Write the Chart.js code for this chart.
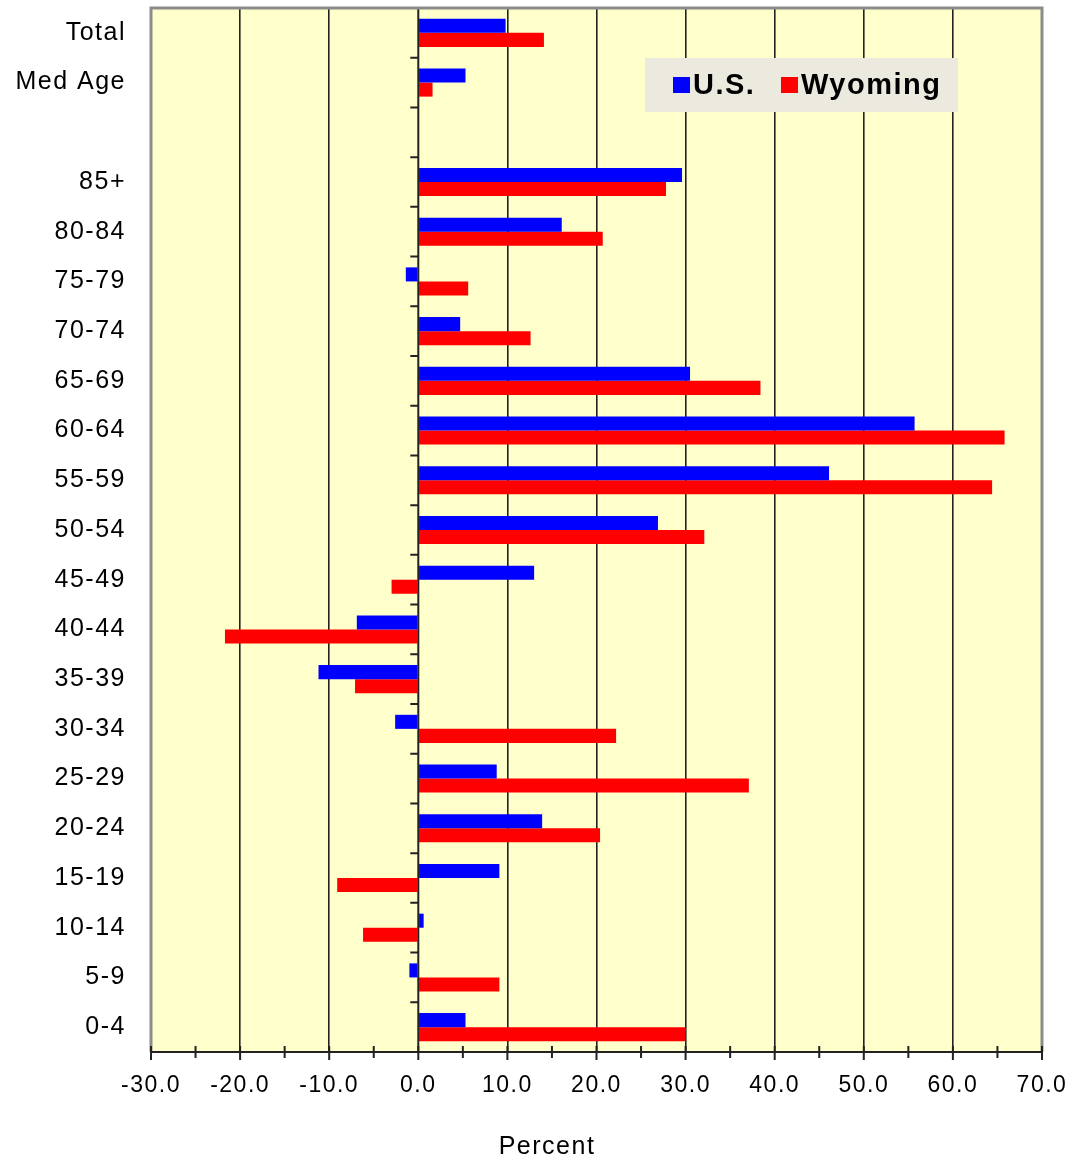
<!DOCTYPE html>
<html>
<head>
<meta charset="utf-8">
<script src="https://cdn.jsdelivr.net/npm/chart.js@4/dist/chart.umd.min.js"></script>
<style>
  body { margin: 0; background: #fff; }
  #wrap { width: 1075px; height: 1163px; position: relative; }
</style>
</head>
<body>
<div id="wrap"><canvas id="popChart"></canvas></div>
<script>
const categories = ['Total', 'Med Age', '', '85+', '80-84', '75-79', '70-74', '65-69', '60-64', '55-59',
  '50-54', '45-49', '40-44', '35-39', '30-34', '25-29', '20-24', '15-19', '10-14', '5-9', '0-4'];
const usValues = [9.8, 5.3, null, 29.6, 16.1, -1.4, 4.7, 30.5, 55.7, 46.1,
  26.9, 13.0, -6.9, -11.2, -2.6, 8.8, 13.9, 9.1, 0.6, -1.0, 5.3];
const wyValues = [14.1, 1.6, null, 27.8, 20.7, 5.6, 12.6, 38.4, 65.8, 64.4,
  32.1, -3.0, -21.7, -7.1, 22.2, 37.1, 20.4, -9.1, -6.2, 9.1, 30.0];
const xMin = -30, xMax = 70, xStep = 10;

const FONT = "'Liberation Sans', Arial, sans-serif";
const SPACING = '1.5px';

// background, zero line, frame, axis ticks, legend, axis title
const decorations = {
  id: 'decorations',
  beforeUpdate(chart) { chart.ctx.letterSpacing = SPACING; },
  beforeDraw(chart) {
    const { ctx, chartArea: a } = chart;
    ctx.letterSpacing = SPACING;
    ctx.save();
    ctx.fillStyle = '#FFFFCC';
    ctx.fillRect(a.left, a.top, a.right - a.left, a.bottom - a.top);
    ctx.restore();
  },
  afterDatasetsDraw(chart) {
    const { ctx, chartArea: a, scales: { x, y } } = chart;
    ctx.save();
    // zero axis with category ticks
    const x0 = x.getPixelForValue(0);
    ctx.strokeStyle = '#222';
    ctx.lineWidth = 2;
    ctx.beginPath();
    ctx.moveTo(x0, a.top);
    ctx.lineTo(x0, a.bottom);
    const n = categories.length;
    const band = (a.bottom - a.top) / n;
    for (let i = 0; i <= n; i++) {
      const yy = a.top + i * band;
      ctx.moveTo(x0 - 8, yy);
      ctx.lineTo(x0, yy);
    }
    ctx.stroke();

    // frame
    ctx.strokeStyle = '#8c8c8c';
    ctx.lineWidth = 3;
    ctx.beginPath();
    ctx.moveTo(a.left, a.bottom);
    ctx.lineTo(a.left, a.top);
    ctx.lineTo(a.right, a.top);
    ctx.lineTo(a.right, a.bottom);
    ctx.stroke();

    // bottom axis + ticks every 5
    ctx.strokeStyle = '#222';
    ctx.lineWidth = 2;
    ctx.beginPath();
    ctx.moveTo(a.left, a.bottom);
    ctx.lineTo(a.right, a.bottom);
    for (let v = xMin; v <= xMax; v += 5) {
      const px = x.getPixelForValue(v);
      ctx.moveTo(px, a.bottom - 6);
      ctx.lineTo(px, a.bottom + (v % 10 === 0 ? 8 : 6));
    }
    ctx.stroke();

    // legend
    const lx = 645, ly = 58;
    ctx.fillStyle = '#ECE9DF';
    ctx.fillRect(lx, ly, 313, 54);
    ctx.font = 'bold 29px ' + FONT;
    ctx.textBaseline = 'alphabetic';
    ctx.textAlign = 'left';
    const items = [
      { label: chart.data.datasets[0].label, color: chart.data.datasets[0].backgroundColor, sx: 673 },
      { label: chart.data.datasets[1].label, color: chart.data.datasets[1].backgroundColor, sx: 781 }
    ];
    items.forEach(it => {
      ctx.fillStyle = it.color;
      ctx.fillRect(it.sx, 77, 17, 16);
      ctx.fillStyle = '#000';
      ctx.fillText(it.label, it.sx + 20, 94);
    });

    // axis title
    ctx.font = '25px ' + FONT;
    ctx.textAlign = 'center';
    ctx.textBaseline = 'middle';
    ctx.fillStyle = '#000';
    ctx.fillText('Percent', 547, 1147);
    ctx.restore();
  }
};

const ctx = document.getElementById('popChart').getContext('2d');
const popChart = new Chart(ctx, {
  type: 'bar',
  data: {
    labels: categories,
    datasets: [
      { label: 'U.S.', data: usValues, backgroundColor: '#0000FF', categoryPercentage: 0.565, barPercentage: 1.0 },
      { label: 'Wyoming', data: wyValues, backgroundColor: '#FF0000', categoryPercentage: 0.565, barPercentage: 1.0 }
    ]
  },
  options: {
    indexAxis: 'y',
    responsive: true,
    maintainAspectRatio: false,
    animation: false,
    layout: { padding: { top: 8, right: 33, left: 0, bottom: 0 } },
    plugins: {
      legend: { display: false },
      tooltip: { enabled: false }
    },
    scales: {
      x: {
        min: xMin,
        max: xMax,
        afterFit: s => { s.height = 111; s.paddingLeft = 0; s.paddingRight = 0; },
        ticks: {
          stepSize: xStep,
          padding: 20,
          color: '#000',
          font: { family: FONT, size: 23 },
          callback: v => Number(v).toFixed(1)
        },
        grid: {
          drawTicks: false,
          lineWidth: 1.6,
          color: c => (c.tick && (c.tick.value === xMin || c.tick.value === xMax || c.tick.value === 0)) ? 'rgba(0,0,0,0)' : '#222'
        },
        border: { display: false }
      },
      y: {
        afterFit: s => { s.width = 151; s.paddingTop = 0; s.paddingBottom = 0; },
        grid: { display: false, drawTicks: false },
        border: { display: false },
        ticks: {
          padding: 25,
          color: '#000',
          autoSkip: false,
          font: { family: FONT, size: 25 }
        }
      }
    }
  },
  plugins: [decorations]
});
</script>
</body>
</html>
